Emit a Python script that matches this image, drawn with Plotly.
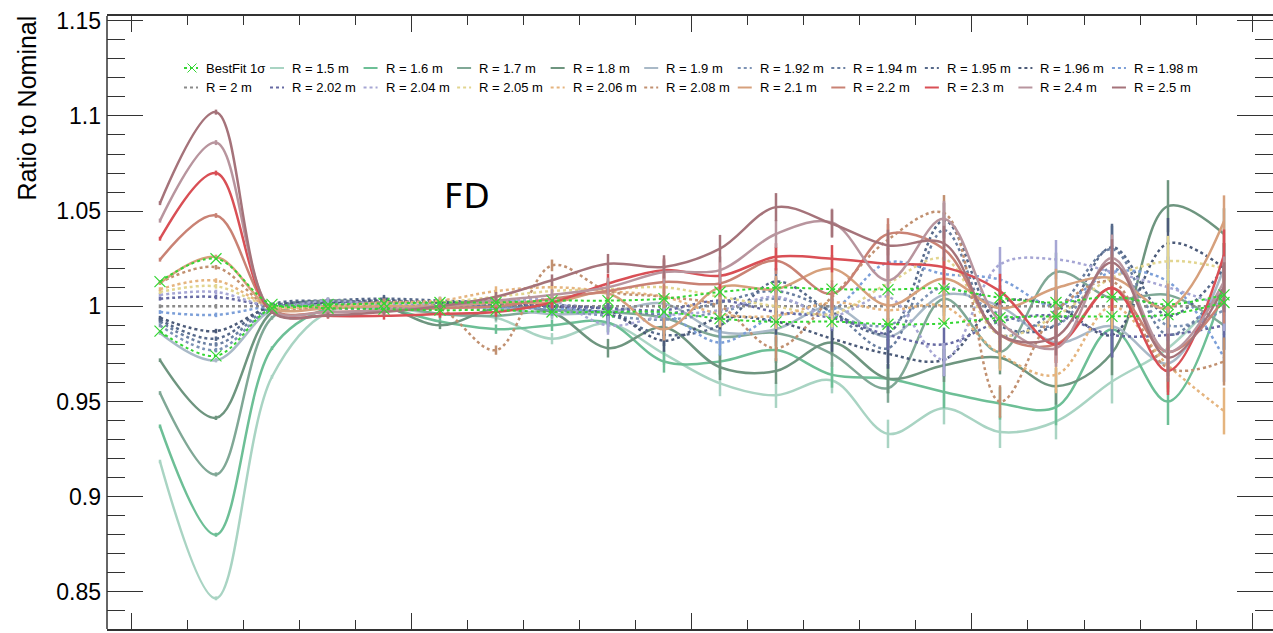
import plotly.graph_objects as go

# Bin centres (20 bins, arbitrary units; major ticks every 5 bins)
bins = [k + 0.5 for k in range(20)]

# Relative statistical uncertainty per bin (shared by all variations)
stat_err = [0.001, 0.0012, 0.001, 0.0015, 0.002, 0.002, 0.0025, 0.003, 0.005, 0.006,
            0.007, 0.007, 0.007, 0.008, 0.009, 0.009, 0.010, 0.012, 0.013, 0.013]

# Best-fit 1 sigma band (upper / lower edge)
bestfit_up = [1.013, 1.025, 1.001, 1.001, 1.0015, 1.002, 1.002, 1.003, 1.003, 1.004,
              1.0075, 1.0098, 1.009, 1.0088, 1.0093, 1.0045, 1.002, 1.005, 1.001, 1.006]
bestfit_lo = [0.987, 0.974, 0.999, 0.999, 0.9985, 0.998, 0.998, 0.997, 0.997, 0.997,
              0.9935, 0.9918, 0.992, 0.9906, 0.991, 0.994, 0.9947, 0.9947, 0.9956, 1.002]

# Ratio to nominal for each radius variation
r_1p5 = [0.9185, 0.8466, 0.963, 0.997, 0.999, 0.996, 0.994, 0.983, 0.991, 0.975,
         0.9595, 0.9533, 0.961, 0.933, 0.9465, 0.934, 0.9395, 0.9605, 0.978, 1.008]
r_1p6 = [0.937, 0.880, 0.978, 0.999, 0.999, 0.992, 0.988, 0.990, 0.9915, 0.971,
         0.971, 0.977, 0.964, 0.962, 0.955, 0.949, 0.947, 0.988, 0.950, 1.010]
r_1p7 = [0.9545, 0.9117, 0.994, 1.002, 1.001, 0.996, 0.995, 0.998, 0.997, 0.994,
         0.984, 0.986, 0.975, 0.957, 1.004, 0.976, 1.018, 1.004, 1.006, 0.990]
r_1p8 = [0.9717, 0.9414, 0.997, 1.003, 1.000, 0.990, 0.999, 0.997, 0.978, 0.989,
         0.968, 0.966, 0.981, 0.962, 0.969, 0.973, 0.958, 0.9755, 1.0526, 1.038]
r_1p9 = [0.986, 0.9717, 0.998, 1.000, 0.999, 1.000, 0.999, 0.996, 0.997, 1.0014,
         0.9865, 0.988, 1.000, 0.984, 1.006, 1.000, 0.981, 0.9895, 0.970, 1.020]
r_1p92 = [0.990, 0.977, 0.999, 1.001, 1.002, 1.001, 1.000, 0.998, 0.995, 0.993,
          0.997, 1.004, 0.995, 0.990, 1.010, 0.996, 0.990, 1.020, 0.990, 0.998]
r_1p94 = [0.992, 0.980, 1.000, 1.002, 1.003, 1.002, 1.003, 1.001, 0.999, 0.996,
          1.002, 1.008, 0.997, 0.978, 1.040, 0.985, 0.998, 1.030, 0.985, 1.010]
r_1p95 = [0.993, 0.983, 1.001, 1.003, 1.004, 1.003, 1.002, 1.000, 0.996, 0.985,
          0.990, 1.013, 0.997, 0.986, 1.045, 0.990, 0.990, 1.031, 0.995, 1.020]
r_1p96 = [0.994, 0.987, 1.000, 1.002, 1.003, 1.002, 1.001, 1.000, 0.998, 0.982,
          0.994, 0.992, 0.983, 0.975, 0.972, 1.002, 1.000, 0.985, 1.033, 1.020]
r_1p98 = [0.997, 0.9955, 1.000, 1.000, 1.001, 1.000, 0.999, 0.999, 0.997, 0.996,
          0.981, 0.995, 0.998, 1.023, 1.017, 1.014, 1.000, 1.018, 1.013, 0.973]
r_2p0 = [1.0] * 20
r_2p02 = [1.004, 1.0049, 1.000, 0.999, 0.999, 1.000, 1.001, 1.000, 0.999, 0.998,
          1.003, 0.997, 0.994, 0.985, 0.980, 0.992, 0.995, 0.985, 0.985, 0.990]
r_2p04 = [1.006, 1.0075, 1.000, 1.003, 1.001, 1.000, 1.002, 1.003, 0.990, 0.995,
          0.998, 1.005, 0.995, 1.005, 0.972, 1.022, 1.0246, 1.018, 1.010, 1.000]
r_2p05 = [1.0075, 1.0105, 1.000, 1.000, 1.001, 1.002, 1.005, 1.008, 1.009, 1.010,
          1.005, 1.000, 0.996, 1.012, 1.025, 0.985, 0.995, 1.015, 1.0237, 1.020]
r_2p06 = [1.009, 1.0135, 1.000, 1.000, 1.002, 1.003, 1.008, 1.010, 1.008, 1.005,
          0.996, 0.995, 1.002, 0.998, 1.000, 0.975, 0.964, 1.000, 0.969, 0.945]
r_2p08 = [1.0125, 1.0205, 0.999, 1.000, 1.002, 0.999, 0.977, 1.0215, 1.008, 1.005,
          1.000, 0.978, 1.005, 1.035, 1.049, 0.950, 0.9975, 1.013, 0.9675, 0.971]
r_2p1 = [1.0122, 1.0259, 0.999, 0.999, 1.000, 1.000, 1.002, 1.002, 1.0067, 0.988,
         1.0101, 1.009, 1.0198, 1.0005, 1.0145, 0.999, 1.0096, 1.015, 0.999, 1.0447]
r_2p2 = [1.0245, 1.0477, 0.998, 0.997, 0.998, 0.999, 1.000, 1.004, 1.008, 1.0128,
         1.012, 1.024, 1.0066, 1.038, 1.030, 0.985, 0.980, 1.0096, 0.976, 1.004]
r_2p3 = [1.0355, 1.070, 0.997, 0.995, 0.995, 0.996, 0.997, 1.002, 1.012, 1.019,
         1.016, 1.026, 1.025, 1.0224, 1.0206, 1.008, 0.980, 1.0096, 0.966, 1.027]
r_2p4 = [1.045, 1.086, 0.998, 0.997, 0.998, 1.000, 1.003, 1.006, 1.010, 1.018,
         1.019, 1.038, 1.044, 1.0136, 1.046, 0.992, 0.978, 1.0254, 0.976, 1.013]
r_2p5 = [1.0542, 1.102, 0.997, 0.9953, 0.997, 1.000, 1.005, 1.0137, 1.0224, 1.0207,
         1.0303, 1.0521, 1.0434, 1.032, 1.033, 0.985, 0.984, 1.023, 0.973, 1.010]

series_names = ["R = 1.5 m", "R = 1.6 m", "R = 1.7 m", "R = 1.8 m", "R = 1.9 m",
                "R = 1.92 m", "R = 1.94 m", "R = 1.95 m", "R = 1.96 m", "R = 1.98 m",
                "R = 2 m", "R = 2.02 m", "R = 2.04 m", "R = 2.05 m", "R = 2.06 m",
                "R = 2.08 m", "R = 2.1 m", "R = 2.2 m", "R = 2.3 m", "R = 2.4 m",
                "R = 2.5 m"]
series_values = [r_1p5, r_1p6, r_1p7, r_1p8, r_1p9, r_1p92, r_1p94, r_1p95, r_1p96,
                 r_1p98, r_2p0, r_2p02, r_2p04, r_2p05, r_2p06, r_2p08, r_2p1, r_2p2,
                 r_2p3, r_2p4, r_2p5]
series_colors = ["#a9d4c3", "#6dbf96", "#80a896", "#6e957f", "#a9b9c7",
                 "#7d93b5", "#6a7fa1", "#56698a", "#4b5a78", "#7c9fd8",
                 "#8a8a8a", "#676aa3", "#a6a6d4", "#e2d590", "#e5b47e",
                 "#c19070", "#d6a07c", "#c98274", "#d94f55", "#b8959e",
                 "#a5737a"]
series_dash = ["solid"] * 5 + ["dot"] * 11 + ["solid"] * 5

BESTFIT_NAME = "BestFit 1σ"
BESTFIT_GREEN = "#33d633"
AXIS_COLOR = "#333333"
FONT = "Liberation Sans, Arial, sans-serif"

# Plot-area geometry in pixels (used to place the key and labels)
W, H = 1273, 633
ML, MR, MT, MB = 107, 0, 16, 4
PW, PH = W - ML - MR, H - MT - MB


def px_x(px):
    return (px - ML) / PW


def px_y(py):
    return (H - MB - py) / PH


fig = go.Figure()

for name, vals, col, dash in zip(series_names, series_values, series_colors, series_dash):
    fig.add_trace(go.Scatter(
        x=bins, y=vals, name=name, mode="lines",
        line=dict(color=col, width=2.5, dash=dash, shape="spline", smoothing=1.0),
        error_y=dict(type="data", array=[v * e for v, e in zip(vals, stat_err)],
                     color=col, thickness=2.5, width=0),
    ))

# Best-fit band edges drawn on top
for i, vals in enumerate([bestfit_up, bestfit_lo]):
    fig.add_trace(go.Scatter(
        x=bins, y=vals, name=BESTFIT_NAME, legendgroup="bestfit",
        mode="lines+markers",
        line=dict(color=BESTFIT_GREEN, width=2, dash="dot", shape="spline", smoothing=1.0),
        marker=dict(symbol="x-thin-open", size=11,
                    line=dict(color=BESTFIT_GREEN, width=1.2), color=BESTFIT_GREEN),
    ))

# Two-row key: 11 entries per row, short line swatch followed by the label
key_entries = [(BESTFIT_NAME, BESTFIT_GREEN, "dot")] + list(
    zip(series_names, series_colors, series_dash))
key_text_x = [204] + [290 + 93.55 * (c - 1) for c in range(1, 11)]
key_row_y = [68, 87.5]
shapes, annotations = [], []
for idx, (label, col, dash) in enumerate(key_entries):
    row, c = divmod(idx, 11)
    tx, ty = key_text_x[c], key_row_y[row]
    shapes.append(dict(type="line", xref="paper", yref="paper",
                       x0=px_x(tx - 20), x1=px_x(tx - 6), y0=px_y(ty), y1=px_y(ty),
                       line=dict(color=col, width=2, dash=dash)))
    if label == BESTFIT_NAME:
        cx, h = tx - 12, 4.5
        for d in (1, -1):
            shapes.append(dict(type="line", xref="paper", yref="paper",
                               x0=px_x(cx - h), x1=px_x(cx + h),
                               y0=px_y(ty - d * h), y1=px_y(ty + d * h),
                               line=dict(color=col, width=1)))
    annotations.append(dict(text=label, showarrow=False, xref="paper", yref="paper",
                            x=px_x(tx), y=px_y(ty), xanchor="left", yanchor="middle",
                            font=dict(family=FONT, size=13, color="black")))

# Left frame edge (the y axis itself only carries ticks, on both sides)
shapes.append(dict(type="line", xref="paper", yref="paper", x0=0, x1=0, y0=0, y1=1,
                   line=dict(color=AXIS_COLOR, width=1.5), layer="above"))

annotations += [
    dict(text="Ratio to Nominal", textangle=-90, showarrow=False,
         xref="paper", yref="paper", x=px_x(27), y=px_y(14),
         xanchor="center", yanchor="top",
         font=dict(family=FONT, size=25, color="black")),
    dict(text="FD", showarrow=False, xref="paper", yref="paper",
         x=px_x(467), y=px_y(196), xanchor="center", yanchor="middle",
         font=dict(family="DejaVu Sans, sans-serif", size=34, color="black")),
]

fig.update_layout(
    width=W, height=H,
    margin=dict(l=ML, r=MR, t=MT, b=MB),
    paper_bgcolor="white", plot_bgcolor="white",
    font=dict(family=FONT, color="black"),
    showlegend=False,
    xaxis=dict(
        range=[-0.446, 20.375], showgrid=False, zeroline=False,
        showline=True, linecolor=AXIS_COLOR, linewidth=1.5, mirror="allticks",
        ticks="inside", tick0=0, dtick=5, ticklen=16, tickwidth=1.2, tickcolor=AXIS_COLOR,
        minor=dict(ticks="inside", dtick=1, ticklen=9, tickwidth=1.2, tickcolor=AXIS_COLOR),
        showticklabels=False,
    ),
    yaxis=dict(
        range=[0.8305, 1.1525], showgrid=False, zeroline=False,
        showline=False, mirror="allticks",
        ticks="inside", tick0=0.85, dtick=0.05, ticklen=36, tickwidth=1.2, tickcolor=AXIS_COLOR,
        minor=dict(ticks="inside", dtick=0.01, ticklen=18, tickwidth=1.2, tickcolor=AXIS_COLOR),
        tickfont=dict(family=FONT, size=23, color="black"),
        ticklabelstandoff=5,
    ),
    shapes=shapes,
    annotations=annotations,
)

fig.write_html("out.html")
